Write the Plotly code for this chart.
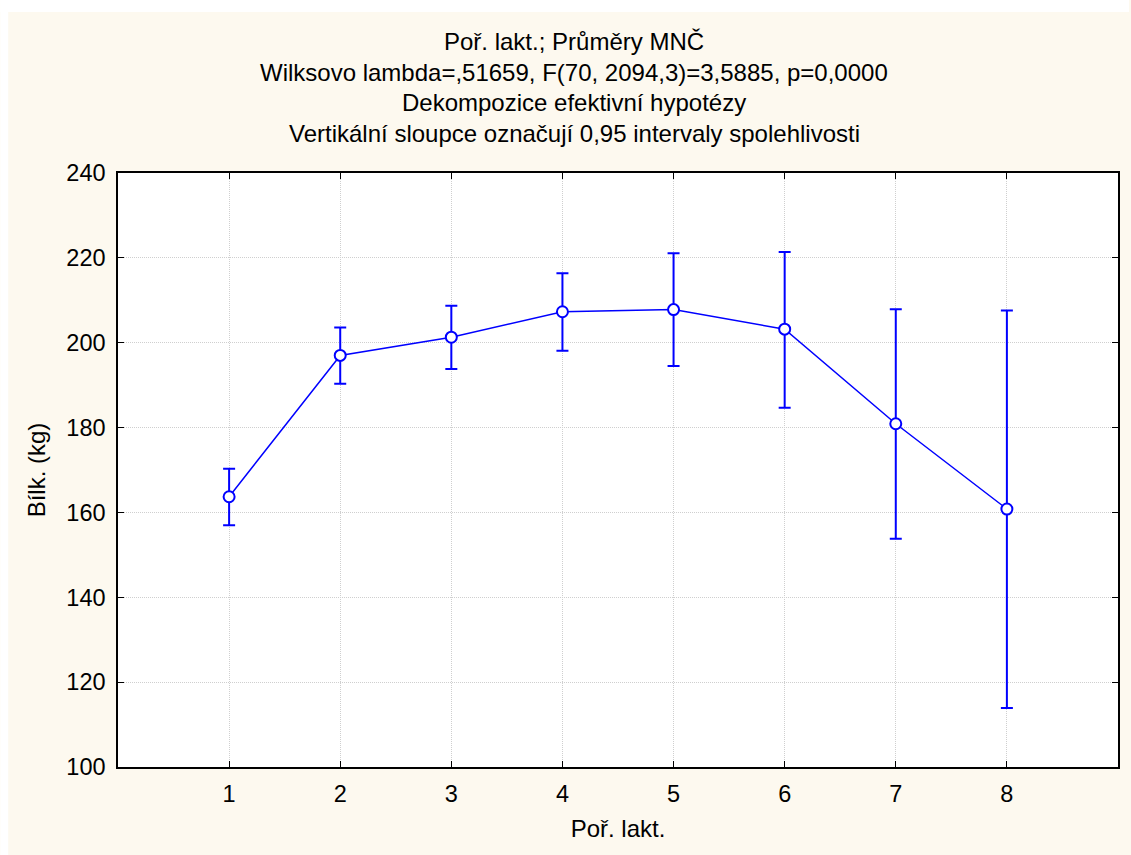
import plotly.graph_objects as go

# Lactation order vs. mean protein yield with 0.95 confidence intervals
lactation = [1, 2, 3, 4, 5, 6, 7, 8]
mean_protein = [163.7, 197.0, 201.3, 207.3, 207.8, 203.2, 180.9, 160.8]
ci_upper = [170.3, 203.6, 208.7, 216.4, 221.1, 221.4, 207.9, 207.6]
ci_lower = [157.0, 190.3, 193.8, 198.1, 194.5, 184.7, 153.8, 113.9]

title_lines = [
    "Poř. lakt.; Průměry MNČ",
    "Wilksovo lambda=,51659, F(70, 2094,3)=3,5885, p=0,0000",
    "Dekompozice efektivní hypotézy",
    "Vertikální sloupce označují 0,95 intervaly spolehlivosti",
]
y_ticks = [100, 120, 140, 160, 180, 200, 220, 240]

W, H = 1131, 855
M_L, M_R, M_T, M_B = 118, 11, 173, 88
PW, PH = W - M_L - M_R, H - M_T - M_B

def px_x(px):
    return (px - M_L) / PW

def px_y(py):
    return (H - M_B - py) / PH

FONT = "Liberation Sans, Arial, sans-serif"
BLUE = "#0000FF"
CREAM = "#FDF9EF"
TICK_SIZE = 23.5
TEXT_SIZE = 24

err_plus = [u - m for u, m in zip(ci_upper, mean_protein)]
err_minus = [m - l for m, l in zip(mean_protein, ci_lower)]

fig = go.Figure()
fig.add_trace(go.Scatter(
    x=lactation,
    y=mean_protein,
    mode="lines+markers",
    line=dict(color=BLUE, width=1.5),
    marker=dict(symbol="circle", size=11, color="white",
                line=dict(color=BLUE, width=2)),
    error_y=dict(type="data", symmetric=False, array=err_plus,
                 arrayminus=err_minus, color=BLUE, thickness=2, width=6),
    showlegend=False,
))

axis_common = dict(
    showline=True, linecolor="black", linewidth=1.5, mirror="ticks",
    ticks="inside", ticklen=6, tickwidth=1.2, tickcolor="black",
    showgrid=True, gridcolor="#cfcfcf", gridwidth=1, griddash="1px,1px",
    zeroline=False,
    tickfont=dict(family=FONT, size=TICK_SIZE, color="black"),
)

fig.update_xaxes(
    range=[0, 9], tickvals=lactation,
    ticklabelstandoff=5,
    title=dict(text="Poř. lakt.", font=dict(family=FONT, size=TEXT_SIZE, color="black"),
               standoff=14),
    **axis_common,
)
fig.update_yaxes(
    range=[100, 240], tickvals=y_ticks,
    ticklabelstandoff=6,
    title=dict(text="Bílk. (kg)", font=dict(family=FONT, size=TEXT_SIZE, color="black"),
               standoff=14),
    **axis_common,
)

title_centers = [42, 72.5, 103, 133.5]
annotations = [
    dict(text=t, xref="paper", yref="paper", x=px_x(575), y=px_y(cy),
         xanchor="center", yanchor="middle", showarrow=False,
         font=dict(family=FONT, size=TEXT_SIZE, color="black"))
    for t, cy in zip(title_lines, title_centers)
]

# white frame strips along the top and left edges of the page
shapes = [
    dict(type="rect", xref="paper", yref="paper", x0=px_x(0), x1=px_x(W),
         y0=px_y(12), y1=px_y(0), fillcolor="white", line=dict(width=0),
         layer="below"),
    dict(type="rect", xref="paper", yref="paper", x0=px_x(0), x1=px_x(8),
         y0=px_y(H), y1=px_y(0), fillcolor="white", line=dict(width=0),
         layer="below"),
]

fig.update_layout(
    width=W, height=H,
    margin=dict(l=M_L, r=M_R, t=M_T, b=M_B),
    paper_bgcolor=CREAM, plot_bgcolor="white",
    annotations=annotations, shapes=shapes,
    font=dict(family=FONT, size=TEXT_SIZE, color="black"),
)

fig.write_html("out.html")
